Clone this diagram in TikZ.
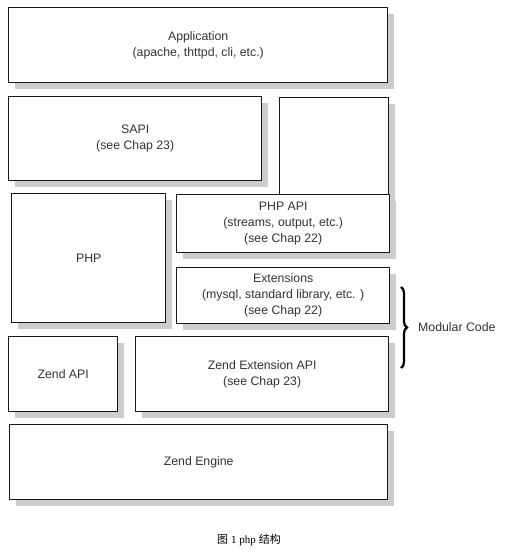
\documentclass[tikz,border=0pt]{standalone}
\usepackage{fontspec}
\setmainfont{Liberation Sans}
\newfontfamily\capfont{Liberation Serif}
\newfontfamily\cjk{Noto Sans CJK SC}
\usetikzlibrary{shadows,decorations.pathreplacing}
\definecolor{shadowgray}{HTML}{CCCCCC}
\definecolor{txtgray}{HTML}{333333}
\begin{document}
\begin{tikzpicture}[x=1pt,y=-1pt,
  layer/.style={draw=black!90, line width=1.4pt, fill=white, inner sep=0pt,
    anchor=north west, align=center, text=txtgray,
    font=\fontsize{12.3}{16}\selectfont,
    drop shadow={shadow xshift=6pt, shadow yshift=-6pt, fill=shadowgray, opacity=1}},
]
\useasboundingbox (0,0) rectangle (508,552);
\fill[white] (0,0) rectangle (508,552);
\node[layer, minimum width=379pt, minimum height=75pt] (app) at (8,7) {Application\\(apache, thttpd, cli, etc.)};
\node[layer, minimum width=253pt, minimum height=84pt] (sapi) at (8,96) {SAPI\\(see Chap 23)};
\node[layer, minimum width=109pt, minimum height=97pt] (tall) at (279,97) {};
\node[layer, minimum width=154pt, minimum height=129pt] (php) at (11,193) {PHP};
\node[layer, minimum width=213pt, minimum height=58pt] (phpapi) at (176,194) {PHP API\\(streams, output, etc.)\\(see Chap 22)};
\node[layer, minimum width=213pt, minimum height=56pt] (ext) at (176,267) {Extensions\\(mysql, standard library, etc. )\\(see Chap 22)};
\node[layer, minimum width=109pt, minimum height=75pt] (zapi) at (8,336) {Zend API};
\node[layer, minimum width=253pt, minimum height=75pt] (zext) at (135,336) {Zend Extension API\\(see Chap 23)};
\node[layer, minimum width=378pt, minimum height=75pt] (engine) at (9,424) {Zend Engine};
\coordinate (btop) at (401,287);
\coordinate (bbot) at (401,368);
\draw[line width=2.2pt, decorate, decoration={brace, amplitude=6pt}] (btop) -- (bbot);
\node[anchor=west, text=txtgray, font=\fontsize{12.3}{16}\selectfont, inner sep=0pt] (mod) at (418,327) {Modular Code};
\node[font=\fontsize{11}{13}\selectfont, inner sep=0pt] (cap) at (249,540) {{\cjk 图}\ {\capfont 1 php}\ {\cjk 结构}};
\end{tikzpicture}
\end{document}
